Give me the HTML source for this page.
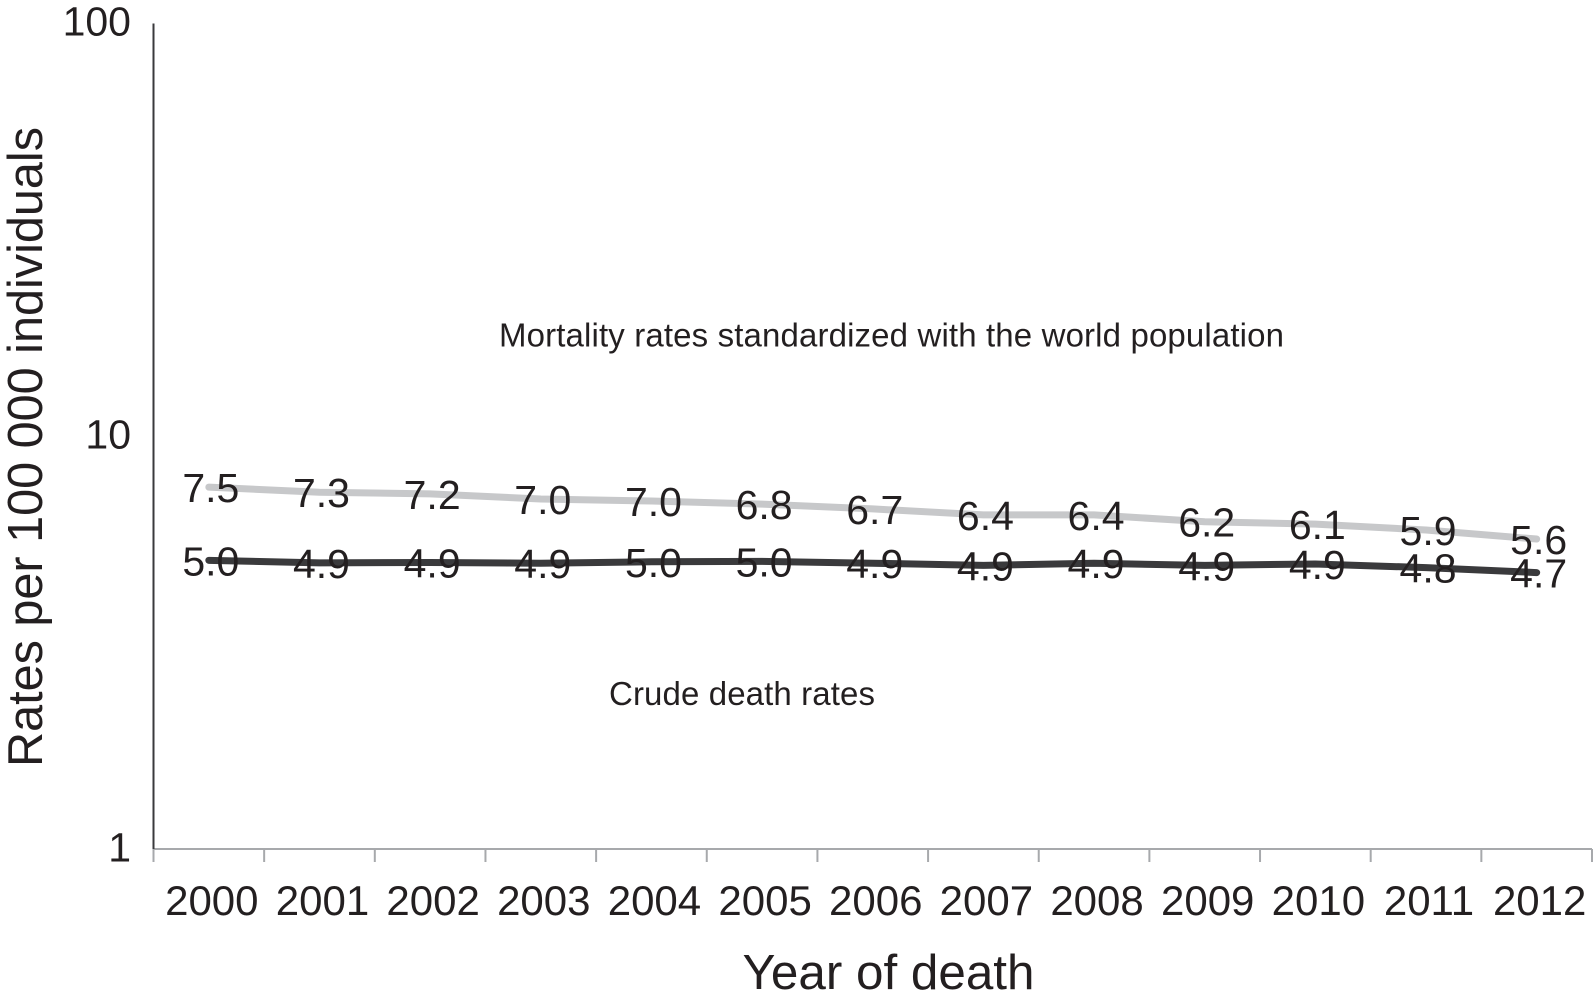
<!DOCTYPE html>
<html lang="en">
<head>
<meta charset="utf-8">
<title>Mortality rates by year of death</title>
<style>
  html, body { margin: 0; padding: 0; background: #fff; }
  svg { display: block; }
  text { font-family: "Liberation Sans", Arial, sans-serif; fill: #231f20; }
</style>
</head>
<body>
<svg id="chart" xmlns="http://www.w3.org/2000/svg" width="1593" height="1000" viewBox="0 0 1593 1000">
  <rect x="0" y="0" width="1593" height="1000" fill="#ffffff"/>
  <g id="axes"></g>
  <g id="series"></g>
  <g id="labels"></g>
  <text transform="translate(42,767) rotate(-90)" font-size="49" textLength="640" lengthAdjust="spacingAndGlyphs">Rates per 100 000 individuals</text>
  <text x="742.5" y="989" font-size="49" textLength="292" lengthAdjust="spacingAndGlyphs">Year of death</text>
  <text x="499" y="346.5" font-size="33" textLength="785" lengthAdjust="spacing">Mortality rates standardized with the world population</text>
  <text x="609" y="705" font-size="33" textLength="266" lengthAdjust="spacing">Crude death rates</text>
</svg>
<script>
var years = [2000, 2001, 2002, 2003, 2004, 2005, 2006, 2007, 2008, 2009, 2010, 2011, 2012];
var standardizedRates = [7.52, 7.31, 7.24, 7.04, 6.96, 6.84, 6.66, 6.44, 6.44, 6.20, 6.12, 5.92, 5.63];
var crudeRates = [5.00, 4.93, 4.94, 4.92, 4.96, 4.97, 4.92, 4.86, 4.92, 4.86, 4.90, 4.80, 4.67];
var yTicks = [1, 10, 100];

var NS = 'http://www.w3.org/2000/svg';
var plotLeft = 153.5, plotRight = 1592, plotBottom = 849, plotTop = 23.5, decadeHeight = 413;
var bandWidth = (plotRight - plotLeft) / years.length;

function xBand(i) { return plotLeft + bandWidth * i; }
function xScale(i) { return xBand(i) + bandWidth / 2; }
function yScale(v) { return plotBottom - decadeHeight * Math.log10(v); }

function make(tag, parent, attrs) {
  var el = document.createElementNS(NS, tag);
  for (var k in attrs) { el.setAttribute(k, attrs[k]); }
  parent.appendChild(el);
  return el;
}

var axes = document.getElementById('axes');
var seriesGroup = document.getElementById('series');
var labels = document.getElementById('labels');

var xAxisLine = make('line', axes, { x1: plotLeft, x2: plotRight, y1: plotBottom, y2: plotBottom, stroke: '#a7a9ac', 'stroke-width': 2 });



var yAxisLine = make('line', axes, { x1: plotLeft, x2: plotLeft, y1: plotTop, y2: plotBottom, stroke: '#3a3a3c', 'stroke-width': 2 });



for (var t = 0; t <= years.length; t++) {
  var tick = make('line', axes, { x1: xBand(t), x2: xBand(t), y1: plotBottom, y2: 862, stroke: '#a7a9ac', 'stroke-width': 2 });
  
  
}

years.forEach(function (year, i) {
  var label = make('text', axes, { x: xScale(i) + 3, y: 915, 'font-size': 42, 'text-anchor': 'middle' });
  label.textContent = String(year);
  
  
});

yTicks.forEach(function (value) {
  var label = make('text', axes, { x: 131, y: yScale(value) + 12.5, 'font-size': 41, 'text-anchor': 'end' });
  label.textContent = String(value);
  
  
});

function linePoints(values) {
  return values.map(function (v, i) { return xScale(i).toFixed(2) + ',' + yScale(v).toFixed(2); }).join(' ');
}

var standardizedLine = make('polyline', seriesGroup, { points: linePoints(standardizedRates), fill: 'none', stroke: '#c7c8ca', 'stroke-width': 7, 'stroke-linecap': 'round', 'stroke-linejoin': 'round' });



var crudeLine = make('polyline', seriesGroup, { points: linePoints(crudeRates), fill: 'none', stroke: '#3a3a3c', 'stroke-width': 7, 'stroke-linecap': 'round', 'stroke-linejoin': 'round' });



standardizedRates.forEach(function (v, i) {
  var label = make('text', labels, { x: xScale(i) + 2, y: yScale(v) + 15, 'font-size': 41, 'text-anchor': 'middle' });
  label.textContent = v.toFixed(1);
  
  
});

crudeRates.forEach(function (v, i) {
  var label = make('text', labels, { x: xScale(i) + 2, y: yScale(v) + 15, 'font-size': 41, 'text-anchor': 'middle' });
  label.textContent = v.toFixed(1);
  
  
});
</script>
</body>
</html>
